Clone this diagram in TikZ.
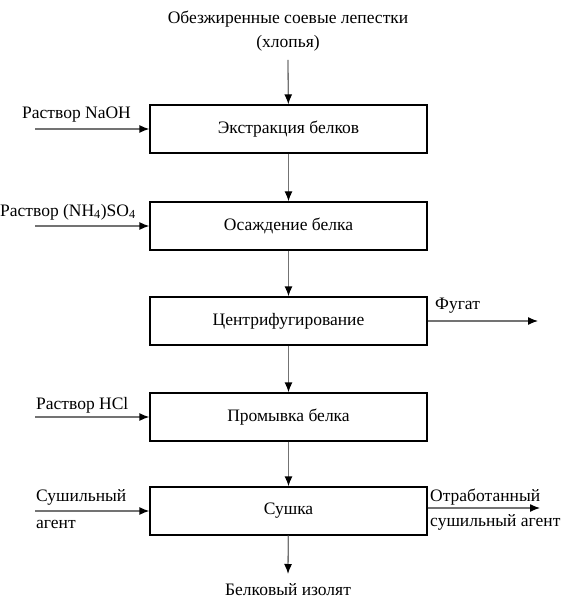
\documentclass[tikz,border=0pt]{standalone}
\usepackage{fontspec}
\setmainfont{Liberation Serif}
\usetikzlibrary{arrows.meta}
\tikzset{
  stage/.style={draw, line width=1.3pt, minimum width=277pt, minimum height=48pt, inner sep=0pt, font=\fontsize{17.5}{20}\selectfont},
  lbl/.style={font=\fontsize{17.5}{24}\selectfont, inner sep=0pt},
  flow/.style={-{Latex[length=10pt,width=8pt,black]}, line width=1.3pt, black!55},
}
\begin{document}
\begin{tikzpicture}[x=1pt, y=-1pt]
  \useasboundingbox (0,0) rectangle (574,601);
  % main line of stages
  \node[lbl, align=center] (src) at (288,31) {Обезжиренные соевые лепестки\\(хлопья)};
  \node[stage] (extr) at (288.5,129) {Экстракция белков};
  \node[stage] (prec) at (288.5,226) {Осаждение белка};
  \node[stage] (cent) at (288.5,321) {Центрифугирование};
  \node[stage] (wash) at (288.5,417) {Промывка белка};
  \node[stage] (dry)  at (288.5,511) {Сушка};
  \node[lbl] (prod) at (288,590) {Белковый изолят};
  \coordinate (srcend) at (288,60);
  \coordinate (prodend) at (288,574);
  \draw[flow] (srcend) -- (extr);
  \draw[flow] (extr) -- (prec);
  \draw[flow] (prec) -- (cent);
  \draw[flow] (cent) -- (wash);
  \draw[flow] (wash) -- (dry);
  \draw[flow] (dry) -- (prodend);
  % inputs from the left
  \node[lbl, anchor=west] (naoh) at (22,115) {Раствор NaOH};
  \node[lbl, anchor=west] (amso) at (0,212) {Раствор (NH\textsubscript{4})SO\textsubscript{4}};
  \node[lbl, anchor=west] (hcl) at (36,405) {Раствор HCl};
  \node[lbl, anchor=west] (agin1) at (36,497) {Сушильный};
  \node[lbl, anchor=west] (agin2) at (36,524) {агент};
  \foreach \name/\stg/\yy in {inA/extr/129, inB/prec/226, inC/wash/417, inD/dry/511} {
    \coordinate (\name) at (35,\yy);
    \draw[flow] (\name) -- (\stg.west |- \name);
  }
  % outputs to the right
  \node[lbl, anchor=west] (fug) at (435,306) {Фугат};
  \node[lbl, anchor=west] (agout1) at (430,497) {Отработанный};
  \node[lbl, anchor=west] (agout2) at (430,522) {сушильный агент};
  \coordinate (fugend) at (538,321);
  \coordinate (agend) at (540,508);
  \draw[flow] (cent.east |- fugend) -- (fugend);
  \draw[flow] (dry.east |- agend) -- (agend);
\end{tikzpicture}
\end{document}
